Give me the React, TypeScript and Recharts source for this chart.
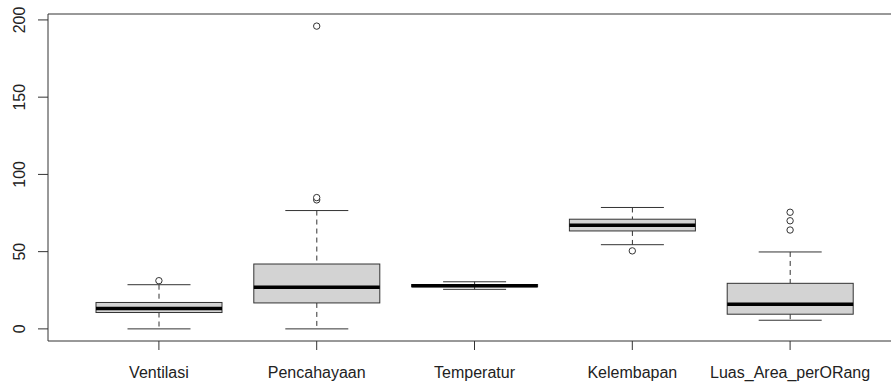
import React from "react";
import { ComposedChart, Bar, Line, XAxis, YAxis, ReferenceLine } from "recharts";

// Box plot summary (R boxplot style)
const categories = ["Ventilasi", "Pencahayaan", "Temperatur", "Kelembapan", "Luas_Area_perORang"];
const lowWhisker = [0, 0, 25.6, 54.5, 5.6];
const lowerQuartile = [10.6, 16.8, 27.3, 63.4, 9.5];
const medians = [13.2, 27.0, 28.0, 67.1, 16.0];
const upperQuartile = [17.1, 42.0, 28.7, 71.0, 29.5];
const highWhisker = [28.6, 76.6, 30.5, 78.6, 49.8];
const outlierA: (number | null)[] = [31.2, 83.5, null, 50.5, 64.0];
const outlierB: (number | null)[] = [null, 85.0, null, null, 70.0];
const outlierC: (number | null)[] = [null, 196.0, null, null, 75.5];
const yTicks = [0, 50, 100, 150, 200];
const yDomain: [number, number] = [-7.84, 203.84];

const data = categories.map((name, i) => ({
  name,
  low: lowWhisker[i],
  q1: lowerQuartile[i],
  median: medians[i],
  q3: upperQuartile[i],
  high: highWhisker[i],
  o1: outlierA[i],
  o2: outlierB[i],
  o3: outlierC[i],
}));

const LINE = "#333";

function BoxShape(props: any) {
  const { x, y, width, height, payload } = props;
  if (x == null || y == null) return null;
  const { low, q1, median, q3, high } = payload;
  // map a value onto the pixel span the bar was given for [low, high]
  const pix = (v: number) => y + (height * (high - v)) / (high - low);
  const cx = x + width / 2;
  const cap = width / 4;
  return (
    <g>
      <line x1={cx} x2={cx} y1={pix(high)} y2={pix(q3)} stroke={LINE} strokeDasharray="5 4" />
      <line x1={cx} x2={cx} y1={pix(q1)} y2={pix(low)} stroke={LINE} strokeDasharray="5 4" />
      <line x1={cx - cap} x2={cx + cap} y1={pix(high)} y2={pix(high)} stroke={LINE} />
      <line x1={cx - cap} x2={cx + cap} y1={pix(low)} y2={pix(low)} stroke={LINE} />
      <rect
        x={x}
        y={pix(q3)}
        width={width}
        height={Math.max(pix(q1) - pix(q3), 0.5)}
        fill="#d3d3d3"
        stroke={LINE}
      />
      <line x1={x} x2={x + width} y1={pix(median)} y2={pix(median)} stroke="#000" strokeWidth={3.5} />
    </g>
  );
}

function XTick(props: any) {
  const { x, y, payload } = props;
  return (
    <text x={x} y={y + 26} textAnchor="middle" fontSize={16} fill="#222">
      {payload.value}
    </text>
  );
}

function YTick(props: any) {
  const { x, y, payload } = props;
  const tx = x - 11;
  return (
    <text
      x={tx}
      y={y}
      textAnchor="middle"
      fontSize={16}
      fill="#222"
      transform={`rotate(-90, ${tx}, ${y})`}
    >
      {payload.value}
    </text>
  );
}

const outlierDot = { r: 3.2, fill: "#fff", stroke: LINE, strokeWidth: 1 };

export default function App() {
  return (
    <div
      style={{
        position: "absolute",
        left: 0,
        top: 0,
        width: 891,
        height: 387,
        overflow: "hidden",
        background: "#fff",
        fontFamily: "'Liberation Sans', Arial, sans-serif",
      }}
    >
      <ComposedChart width={902} height={387} data={data} margin={{ top: 14, right: 1, bottom: 0, left: 0 }}>
        <XAxis
          dataKey="name"
          height={46}
          padding={{ left: 32, right: 32 }}
          tickSize={9}
          tick={<XTick />}
          axisLine={{ stroke: LINE }}
          tickLine={{ stroke: LINE }}
          interval={0}
        />
        <YAxis
          type="number"
          width={48}
          domain={yDomain}
          ticks={yTicks}
          allowDataOverflow
          tickSize={10}
          tick={<YTick />}
          axisLine={{ stroke: LINE }}
          tickLine={{ stroke: LINE }}
        />
        <ReferenceLine y={yDomain[1]} stroke={LINE} />
        <Bar
          dataKey={(d: any) => [d.low, d.high]}
          barSize={126}
          shape={<BoxShape />}
          isAnimationActive={false}
        />
        <Line dataKey="o1" stroke="none" dot={outlierDot} activeDot={false} isAnimationActive={false} />
        <Line dataKey="o2" stroke="none" dot={outlierDot} activeDot={false} isAnimationActive={false} />
        <Line dataKey="o3" stroke="none" dot={outlierDot} activeDot={false} isAnimationActive={false} />
      </ComposedChart>
    </div>
  );
}
